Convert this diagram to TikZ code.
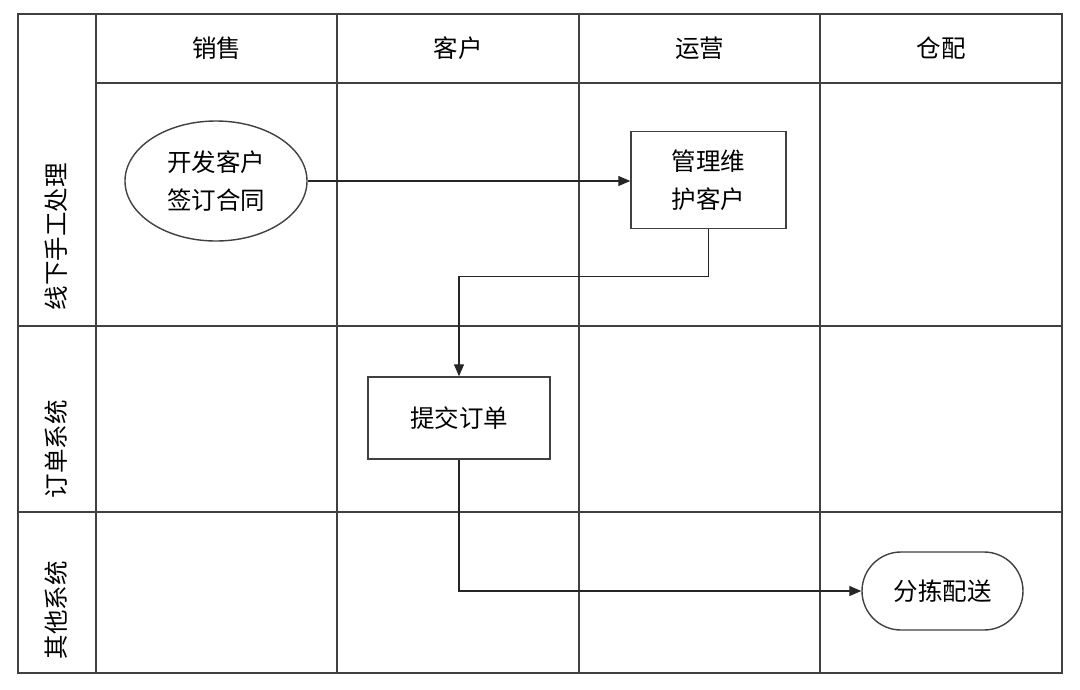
\documentclass[tikz,border=0pt]{standalone}
\usepackage{fontspec}
\setmainfont{Noto Sans CJK SC}
\usetikzlibrary{shapes.geometric,arrows.meta}
\begin{document}
\begin{tikzpicture}[x=1pt,y=-1pt,
  grid/.style={draw=black!75, line width=1.6pt},
  shp/.style={draw=black!75, line width=1.4pt, fill=white, align=center, inner sep=0pt, font=\fontsize{24.5}{38}\selectfont},
  lbl/.style={font=\fontsize{24.5}{28}\selectfont, inner sep=0pt},
  arr/.style={draw=black!85, line width=1.3pt, -{Triangle[length=12pt,width=10pt]}}]
\useasboundingbox (0,0) rectangle (1080,689);
% grid
\draw[grid] (18,14) rectangle (1062,673);
\foreach \x in {96,337,579,820} \draw[grid] (\x,14) -- (\x,673);
\draw[grid] (96,83) -- (1062,83);
\draw[grid] (18,326) -- (1062,326);
\draw[grid] (18,512) -- (1062,512);
% headers
\node[lbl] (h1) at (216.5,48) {销售};
\node[lbl] (h2) at (458,48) {客户};
\node[lbl] (h3) at (699.5,48) {运营};
\node[lbl] (h4) at (941,48) {仓配};
\node[lbl, rotate=90] (r1) at (56,236.5) {线下手工处理};
\node[lbl, rotate=90] (r2) at (56,449) {订单系统};
\node[lbl, rotate=90] (r3) at (56,610) {其他系统};
% shapes
\node[shp, ellipse, minimum width=182pt, minimum height=120pt] (kf) at (216,181) {开发客户\\签订合同};
\node[shp, rectangle, minimum width=155pt, minimum height=97pt] (gl) at (708.5,180) {管理维\\护客户};
\node[shp, rectangle, minimum width=182pt, minimum height=82pt] (tj) at (459,418) {提交订单};
\node[shp, rectangle, rounded corners=39pt, minimum width=161pt, minimum height=78pt] (fj) at (942.5,591) {分拣配送};
% connectors
\draw[arr] (kf.east) -- (kf.east -| gl.west);
\draw[arr] (gl.south) -- ++(0,47) -| (tj.north);
\draw[arr] (tj.south) |- (fj.west);
\end{tikzpicture}
\end{document}
